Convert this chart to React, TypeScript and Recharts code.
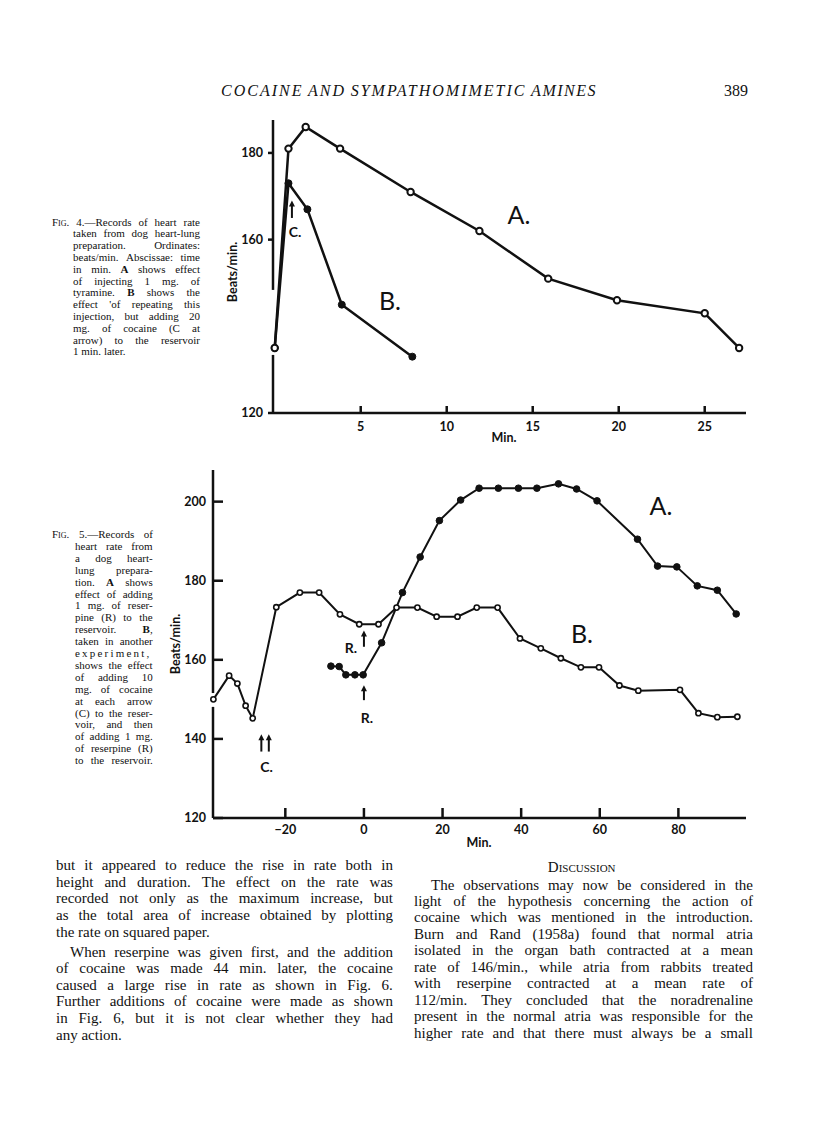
import React from 'react';
import { LineChart, Line, XAxis, YAxis, ReferenceLine } from 'recharts';

// Fig. 4: minutes after the injection, beats/min
const fig4TimeA = [0, 0.8, 1.8, 3.8, 7.9, 11.9, 15.9, 19.9, 25, 27];
const fig4RateA = [135, 181, 186, 181, 171, 162, 151, 146, 143, 135];
const fig4TimeB = [0, 0.8, 1.9, 3.9, 8];
const fig4RateB = [135, 173, 167, 145, 133];
const fig4XTicks = [5, 10, 15, 20, 25];
const fig4YTicks = [120, 160, 180];

// Fig. 5: minutes from reserpine, beats/min
const fig5TimeA = [-8.4, -6.3, -4.6, -2.3, -0.2, 4.5, 9.8, 14.3, 19.2, 24.6, 29.3, 34.2, 39.3, 44, 49.5, 54.1, 59.3, 69.6, 74.7, 79.6, 84.8, 89.9, 94.7];
const fig5RateA = [158.4, 158.3, 156.2, 156.2, 156.2, 164.3, 177, 186, 195.2, 200.4, 203.4, 203.4, 203.4, 203.4, 204.5, 203.2, 200.2, 190.5, 183.7, 183.5, 178.7, 177.6, 171.6];
const fig5TimeB = [-38.3, -34.3, -32.2, -30.1, -28.3, -22.3, -16.3, -11.4, -6.1, -1.2, 3.7, 8.3, 13.6, 18.5, 23.8, 28.7, 34, 39.7, 45, 50.1, 55.2, 59.8, 65, 69.8, 80.4, 85.1, 89.9, 95];
const fig5RateB = [150, 156, 154, 148.4, 145.2, 173.3, 177, 177, 171.5, 169, 169, 173.2, 173.2, 170.9, 170.9, 173.2, 173.2, 165.4, 162.9, 160.4, 158.1, 158.1, 153.5, 152.2, 152.4, 146.5, 145.5, 145.6];
const fig5XTicks = [-20, 0, 20, 40, 60, 80];
const fig5YTicks = [120, 140, 160, 180, 200];

// arrows: [minute, from, to]
const fig4Arrows = [[1, 165, 169]];
const fig5Arrows = [[0, 163.3, 167.4], [0, 149.8, 153.6], [-26.1, 136.8, 141.2], [-24.2, 136.8, 141.2]];

const fig4Caption = [
  '~Fig. 4.—Records of heart rate',
  'taken from dog heart-lung',
  'preparation. Ordinates:',
  'beats/min. Abscissae: time',
  'in min. *A* shows effect',
  'of injecting 1 mg. of',
  'tyramine. *B* shows the',
  "effect 'of repeating this",
  'injection, but adding 20',
  'mg. of cocaine (C at',
  'arrow) to the reservoir',
  '1 min. later.',
];

const fig5Caption = [
  '~Fig. 5.—Records of',
  'heart rate from',
  'a dog heart-',
  'lung prepara-',
  'tion. *A* shows',
  'effect of adding',
  '1 mg. of reser-',
  'pine (R) to the',
  'reservoir. *B*,',
  'taken in another',
  'experiment,',
  'shows the effect',
  'of adding 10',
  'mg. of cocaine',
  'at each arrow',
  '(C) to the reser-',
  'voir, and then',
  'of adding 1 mg.',
  'of reserpine (R)',
  'to the reservoir.',
];

const leftText = [
  'but it appeared to reduce the rise in rate both in',
  'height and duration. The effect on the rate was',
  'recorded not only as the maximum increase, but',
  'as the total area of increase obtained by plotting',
  'the rate on squared paper.',
  'When reserpine was given first, and the addition',
  'of cocaine was made 44 min. later, the cocaine',
  'caused a large rise in rate as shown in Fig. 6.',
  'Further additions of cocaine were made as shown',
  'in Fig. 6, but it is not clear whether they had',
  'any action.',
];

const rightText = [
  'The observations may now be considered in the',
  'light of the hypothesis concerning the action of',
  'cocaine which was mentioned in the introduction.',
  'Burn and Rand (1958a) found that normal atria',
  'isolated in the organ bath contracted at a mean',
  'rate of 146/min., while atria from rabbits treated',
  'with reserpine contracted at a mean rate of',
  '112/min. They concluded that the noradrenaline',
  'present in the normal atria was responsible for the',
  'higher rate and that there must always be a small',
];

const SERIF = '"Liberation Serif", "Times New Roman", serif';
const SANS = 'Lato, "Open Sans", sans-serif';
const INK = '#111';

const fig4A = fig4TimeA.map((t, i) => ({ t, v: fig4RateA[i] }));
const fig4B = fig4TimeB.map((t, i) => ({ t, v: fig4RateB[i] }));
const fig5A = fig5TimeA.map((t, i) => ({ t, v: fig5RateA[i] }));
const fig5B = fig5TimeB.map((t, i) => ({ t, v: fig5RateB[i] }));

const tickFont = { fill: INK, fontSize: 12.5, fontFamily: SANS, fontWeight: 700 };
const axisStroke = { stroke: INK, strokeWidth: 2.5 };

function fmt(word: string) {
  if (word.startsWith('~')) return <span style={{ fontVariant: 'small-caps' }}>{word.slice(1)}</span>;
  if (word.startsWith('*')) {
    const parts = word.split('*');
    return (
      <>
        <b>{parts[1]}</b>
        {parts[2]}
      </>
    );
  }
  return word;
}

function TextRow(props: { x: number; y: number; w: number; size: number; text: string; justify?: boolean; spacing?: number }) {
  const { x, y, w, size, text, justify = true, spacing = 0 } = props;
  const h = Math.round(size * 1.25);
  const words = text.split(' ');
  const style: React.CSSProperties = {
    position: 'absolute',
    left: x,
    top: y - h / 2 - 1,
    width: w,
    height: h,
    lineHeight: `${h}px`,
    fontFamily: SERIF,
    fontSize: size,
    letterSpacing: spacing,
    color: INK,
    whiteSpace: 'nowrap',
  };
  if (!justify) {
    return (
      <div style={style}>
        {words.map((wd, i) => (
          <React.Fragment key={i}>
            {i ? ' ' : ''}
            {fmt(wd)}
          </React.Fragment>
        ))}
      </div>
    );
  }
  return (
    <div style={{ ...style, display: 'flex', justifyContent: 'space-between' }}>
      {words.map((wd, i) => (
        <span key={i}>{fmt(wd)}</span>
      ))}
    </div>
  );
}

function Tag(props: { cx: number; cy: number; size: number; bold?: boolean; font?: string; children: React.ReactNode }) {
  const { cx, cy, size, bold, font = SANS, children } = props;
  return (
    <div
      style={{
        position: 'absolute',
        left: cx,
        top: cy,
        transform: 'translate(-50%, -50%)',
        fontFamily: font,
        fontSize: size,
        fontWeight: bold ? 700 : 400,
        lineHeight: 1,
        color: INK,
        whiteSpace: 'nowrap',
      }}
    >
      {children}
    </div>
  );
}

function ArrowShape(props: any) {
  const { x1, y1, x2, y2 } = props;
  const head = 6;
  return (
    <g>
      <line x1={x1} y1={y1} x2={x2} y2={y2 + head - 1} stroke={INK} strokeWidth={2} />
      <polygon points={`${x2},${y2} ${x2 - 3},${y2 + head} ${x2 + 3},${y2 + head}`} fill={INK} />
    </g>
  );
}

function Fig4() {
  const xMin = -0.1;
  return (
    <div style={{ position: 'absolute', left: 200, top: 100 }}>
      <LineChart width={560} height={360} margin={{ top: 20, right: 14, bottom: 17, left: 33 }}>
        <XAxis
          type="number"
          dataKey="t"
          domain={[xMin, 27.4]}
          ticks={fig4XTicks}
          interval={0}
          height={30}
          axisLine={axisStroke}
          tickLine={axisStroke}
          tickSize={-7}
          tickMargin={16}
          tick={tickFont}
        />
        <YAxis
          type="number"
          domain={[120, 187.6]}
          ticks={fig4YTicks}
          interval={0}
          width={40}
          axisLine={false}
          tickLine={axisStroke}
          tickSize={5}
          tickMargin={5}
          tick={tickFont}
        />
        {/* broken ordinate */}
        <ReferenceLine segment={[{ x: xMin, y: 187.6 }, { x: xMin, y: 148.4 }]} stroke={INK} strokeWidth={2.5} ifOverflow="visible" />
        <ReferenceLine segment={[{ x: xMin, y: 133.4 }, { x: xMin, y: 120 }]} stroke={INK} strokeWidth={2.5} ifOverflow="visible" />
        {fig4Arrows.map(([t, a, b], i) => (
          <ReferenceLine key={i} segment={[{ x: t, y: a }, { x: t, y: b }]} shape={ArrowShape} ifOverflow="visible" />
        ))}
        <Line
          data={fig4B}
          dataKey="v"
          stroke={INK}
          strokeWidth={2.5}
          dot={{ r: 3.5, fill: INK, stroke: INK, strokeWidth: 1 }}
          activeDot={false}
          isAnimationActive={false}
        />
        <Line
          data={fig4A}
          dataKey="v"
          stroke={INK}
          strokeWidth={2.5}
          dot={{ r: 3.2, fill: '#fff', stroke: INK, strokeWidth: 2 }}
          activeDot={false}
          isAnimationActive={false}
        />
      </LineChart>
    </div>
  );
}

function Fig5() {
  const xMin = -38.4;
  return (
    <div style={{ position: 'absolute', left: 140, top: 450 }}>
      <LineChart width={620} height={410} margin={{ top: 20, right: 14, bottom: 12, left: 33 }}>
        <XAxis
          type="number"
          dataKey="t"
          domain={[xMin, 97.2]}
          ticks={fig5XTicks}
          interval={0}
          height={30}
          axisLine={axisStroke}
          tickLine={axisStroke}
          tickSize={-10}
          tickMargin={17.5}
          tick={tickFont}
          tickFormatter={(v: number) => (v < 0 ? `\u2212${Math.abs(v)}` : `${v}`)}
        />
        <YAxis
          type="number"
          domain={[120, 208]}
          ticks={fig5YTicks}
          interval={0}
          width={40}
          axisLine={false}
          tickLine={axisStroke}
          tickSize={-10}
          tickMargin={17}
          tick={tickFont}
        />
        <ReferenceLine segment={[{ x: xMin, y: 208 }, { x: xMin, y: 151.6 }]} stroke={INK} strokeWidth={2.5} ifOverflow="visible" />
        <ReferenceLine segment={[{ x: xMin, y: 148.1 }, { x: xMin, y: 120 }]} stroke={INK} strokeWidth={2.5} ifOverflow="visible" />
        {fig5Arrows.map(([t, a, b], i) => (
          <ReferenceLine key={i} segment={[{ x: t, y: a }, { x: t, y: b }]} shape={ArrowShape} ifOverflow="visible" />
        ))}
        <Line
          data={fig5A}
          dataKey="v"
          stroke={INK}
          strokeWidth={2}
          dot={{ r: 3.3, fill: INK, stroke: INK, strokeWidth: 1 }}
          activeDot={false}
          isAnimationActive={false}
        />
        <Line
          data={fig5B}
          dataKey="v"
          stroke={INK}
          strokeWidth={2}
          dot={{ r: 2.6, fill: '#fff', stroke: INK, strokeWidth: 1.6 }}
          activeDot={false}
          isAnimationActive={false}
        />
      </LineChart>
    </div>
  );
}

export default function App() {
  return (
    <div style={{ position: 'absolute', left: 0, top: 0, width: 816, height: 1129, background: '#fff', overflow: 'hidden' }}>
      {/* running head */}
      <div
        style={{
          position: 'absolute',
          left: 221,
          top: 82,
          width: 376,
          display: 'flex',
          justifyContent: 'space-between',
          fontFamily: SERIF,
          fontStyle: 'italic',
          fontSize: 16,
          letterSpacing: 2,
          color: INK,
        }}
      >
        <span>COCAINE</span>
        <span>AND</span>
        <span>SYMPATHOMIMETIC</span>
        <span style={{ letterSpacing: 1.5 }}>AMINES</span>
      </div>
      <div style={{ position: 'absolute', left: 700, top: 82, width: 48, textAlign: 'right', fontFamily: SERIF, fontSize: 16, color: INK }}>389</div>

      <Fig4 />
      <Tag cx={519} cy={214} size={25}>A.</Tag>
      <Tag cx={390} cy={300} size={25}>B.</Tag>
      <Tag cx={295} cy={232} size={14} bold>C.</Tag>
      <Tag cx={504} cy={438} size={12.5} bold>Min.</Tag>
      <div style={{ position: 'absolute', left: 232, top: 272, transform: 'translate(-50%, -50%) rotate(-90deg)', fontFamily: SANS, fontWeight: 700, fontSize: 12.5, color: INK, whiteSpace: 'nowrap' }}>
        Beats/min.
      </div>
      {fig4Caption.map((s, i) => (
        <TextRow key={i} x={i ? 73 : 52} y={222.7 + i * 11.78} w={i ? 127 : 148} size={11} text={s} justify={i < fig4Caption.length - 1} />
      ))}

      <Fig5 />
      <Tag cx={661} cy={505} size={25}>A.</Tag>
      <Tag cx={582} cy={633} size={25}>B.</Tag>
      <Tag cx={351} cy={647.5} size={14} bold>R.</Tag>
      <Tag cx={367} cy={718} size={14} bold>R.</Tag>
      <Tag cx={266.5} cy={767} size={14} bold>C.</Tag>
      <Tag cx={479} cy={843} size={12.5} bold>Min.</Tag>
      <div style={{ position: 'absolute', left: 175, top: 644, transform: 'translate(-50%, -50%) rotate(-90deg)', fontFamily: SANS, fontWeight: 700, fontSize: 12.5, color: INK, whiteSpace: 'nowrap' }}>
        Beats/min.
      </div>
      {fig5Caption.map((s, i) => (
        <TextRow
          key={i}
          x={i ? 75 : 52}
          y={535 + i * 11.9}
          w={i ? 77.7 : 101}
          size={11}
          text={s}
          spacing={s === 'experiment,' ? 2.2 : 0}
        />
      ))}

      {/* body text */}
      {leftText.map((s, i) => (
        <TextRow
          key={i}
          x={i === 5 ? 70 : 56}
          y={866.7 + i * 16.6 + (i >= 5 ? 3.4 : 0)}
          w={i === 5 ? 323 : 337}
          size={15}
          text={s}
          justify={i !== 4 && i !== 10}
        />
      ))}
      <Tag cx={581.7} cy={867} size={15} font={SERIF}>
        <span style={{ fontVariant: 'small-caps' }}>Discussion</span>
      </Tag>
      {rightText.map((s, i) => (
        <TextRow key={i} x={i ? 414 : 431} y={886 + i * 16.45} w={i ? 339 : 322} size={15} text={s} />
      ))}
    </div>
  );
}
